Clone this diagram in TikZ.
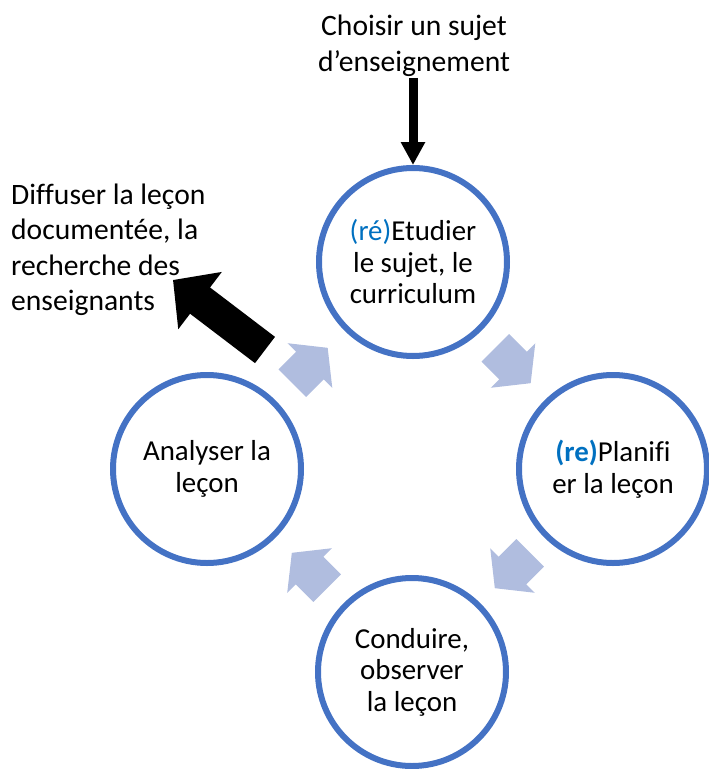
\documentclass[tikz,border=0pt]{standalone}
\usepackage{fontspec}
\setmainfont{Carlito}[Ligatures=NoCommon]
\usetikzlibrary{arrows.meta,calc}
\definecolor{ringblue}{HTML}{4472C4}
\definecolor{cycfill}{RGB}{176,189,223}
\definecolor{reblue}{HTML}{0070C0}
\tikzset{
  ring/.style={circle, draw=ringblue, line width=6pt, minimum size=188pt, inner sep=0pt, align=center,
    font=\fontsize{28.9pt}{31.5pt}\selectfont},
  outtext/.style={inner sep=0pt, font=\fontsize{29.6pt}{35.5pt}\selectfont},
  cycarrow/.style={fill=cycfill, draw=none},
}
\newcommand{\cycshape}{(-25,-19.5) -- (0,-19.5) -- (0,-31.5) -- (25,0) -- (0,31.5) -- (0,19.5) -- (-25,19.5) -- cycle}
\begin{document}
\begin{tikzpicture}[x=1pt,y=-1pt]
\useasboundingbox (0,0) rectangle (709,769);
% circles
\node[ring] (top) at (413,262) {\textcolor{reblue}{(ré)}Etudier\\le sujet, le\\curriculum};
\node[ring] (right) at (613,469) {\textcolor{reblue}{\bfseries(re)}Planifi\\er la leçon};
\node[ring] (bottom) at (412,672) {Conduire,\\observer\\la leçon};
\node[ring] (left) at (207,469) {Analyser la\\leçon};
% outside texts
\node[outtext, align=center] (choose) at (414,46) {Choisir un sujet\\d’enseignement};
\node[outtext, align=left, anchor=west] (diffuse) at (11,250) {Diffuser la leçon\\documentée, la\\recherche des\\enseignants};
% cycle arrows
\begin{scope}[shift={($(top)!0.5!(right)$)}, rotate=-45]
  \fill[cycarrow] \cycshape;
\end{scope}
\begin{scope}[shift={($(right)!0.5!(bottom)$)}, rotate=-135]
  \fill[cycarrow] \cycshape;
\end{scope}
\begin{scope}[shift={($(bottom)!0.5!(left)$)}, rotate=135]
  \fill[cycarrow] \cycshape;
\end{scope}
\begin{scope}[shift={($(left)!0.5!(top)$)}, rotate=45]
  \fill[cycarrow] \cycshape;
\end{scope}
% black arrows
\draw[line width=9pt, -{Triangle[length=23pt,width=23pt]}] (choose.south -| top.north) ++(0,1) -- (top.north);
\coordinate (bigstart) at (265,350);
\coordinate (bigtip) at (173,280);
\draw[line width=33pt, -{Triangle[length=34pt,width=70pt]}] (bigstart) -- (bigtip);
\end{tikzpicture}
\end{document}
